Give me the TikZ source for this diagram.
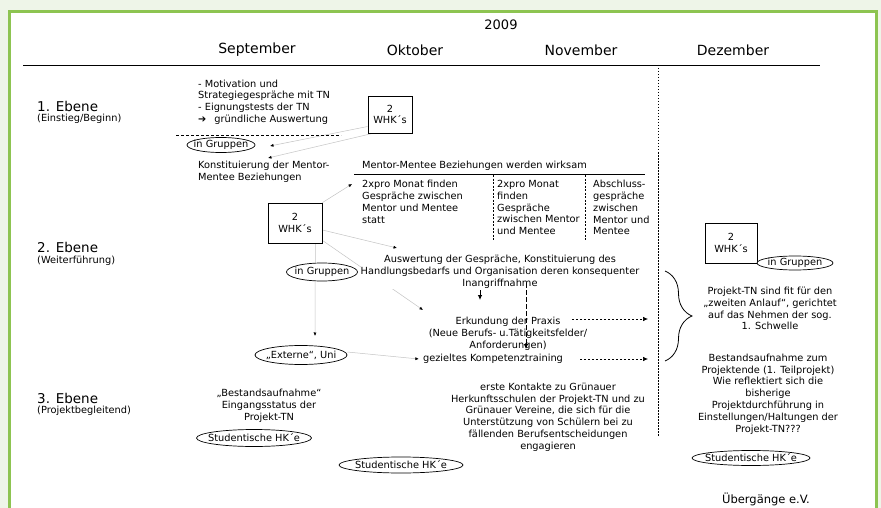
\documentclass[tikz,border=0pt]{standalone}
\usepackage{fontspec}
\setmainfont{DejaVu Sans}
\usetikzlibrary{arrows.meta,shapes.geometric,decorations.pathreplacing}

\definecolor{framegreen}{HTML}{8DC451}
\definecolor{pagegreen}{HTML}{EEF5E8}
\definecolor{linkgray}{HTML}{C4C4C4}

\pgfdeclarelayer{bg}
\pgfdeclarelayer{links}
\pgfsetlayers{bg,links,main}

\tikzset{
  small/.style={font=\fontsize{9.8}{11.8}\selectfont, inner sep=0pt},
  ctxt/.style={small, align=center},
  ltxt/.style={small, align=left, anchor=west},
  month/.style={font=\fontsize{14}{16}\selectfont, inner sep=0pt},
  level/.style={font=\fontsize{13.5}{16}\selectfont, inner sep=0pt, anchor=west},
  whk/.style={draw, small, align=center, line width=0.8pt, fill=white},
  grp/.style={draw, ellipse, small, fill=white, inner xsep=-6pt, inner ysep=-2pt,
    minimum height=15pt, line width=0.7pt},
  link/.style={draw=linkgray, line width=0.5pt, -{Latex[length=3.5pt,width=3pt,color=black]}},
  flow/.style={line width=0.8pt, -{Latex[length=5pt,width=4.5pt]}},
  dotflow/.style={line width=0.7pt, dash pattern=on 2pt off 2pt, -{Latex[length=5pt,width=4.5pt]}},
  colsep/.style={line width=0.5pt, dash pattern=on 2pt off 1.5pt},
}

\begin{document}
\begin{tikzpicture}[x=1pt, y=-1pt]
\useasboundingbox (0,0) rectangle (881,508);
\begin{pgfonlayer}{bg}
\fill[pagegreen] (0,0) rectangle (881,508);
\draw[framegreen, line width=3pt, fill=white] (9,11.5) rectangle (876,540);
\end{pgfonlayer}

% header
\node[month, font=\fontsize{13}{15}\selectfont] (year) at (501,25) {2009};
\node[month] (sep) at (257,50) {September};
\node[month] (okt) at (415,50) {Oktober};
\node[month] (nov) at (581,50) {November};
\node[month] (dez) at (733,50) {Dezember};
\coordinate (hl) at (23,65);
\coordinate (hr) at (820,65);
\draw[line width=0.9pt] (hl) -- (hr);
\coordinate (dt) at (658,65);
\coordinate (db) at (658,437);
\draw[line width=0.6pt, dash pattern=on 1.5pt off 1.5pt] (dt) -- (db);

% levels
\node[level] (e1) at (37,106) {1. Ebene};
\node[small, anchor=west] (e1s) at (37,119) {(Einstieg/Beginn)};
\node[level] (e2) at (37,247) {2. Ebene};
\node[small, anchor=west] (e2s) at (37,261) {(Weiterführung)};
\node[level] (e3) at (37,398) {3. Ebene};
\node[small, anchor=west] (e3s) at (37,411) {(Projektbegleitend)};

% 1. Ebene
\node[ltxt] (motiv) at (198,102) {- Motivation und\\Strategiegespräche mit TN\\- Eignungstests der TN\\➔\hspace{8pt}gründliche Auswertung};
\coordinate (dl) at (176,135);
\coordinate (dr) at (341,135);
\draw[line width=0.8pt, dash pattern=on 3pt off 2pt] (dl) -- (dr);
\node[grp, minimum width=68pt] (grp1) at (221,145) {in Gruppen};
\node[ltxt] (konst) at (198,172) {Konstituierung der Mentor-\\Mentee Beziehungen};
\node[whk, minimum width=44pt, minimum height=37pt] (whk1) at (390,114.5) {2\\WHK´s};

% Mentor-Mentee
\node[small, anchor=west] (mmb) at (362,166) {Mentor-Mentee Beziehungen werden wirksam};
\coordinate (ul) at (354,174);
\coordinate (ur) at (645,174);
\draw[line width=0.8pt] (ul) -- (ur);
\node[ltxt] (col1) at (362,201.7) {2xpro Monat finden\\Gespräche zwischen\\Mentor und Mentee\\statt};
\node[ltxt] (col2) at (497,207.6) {2xpro Monat\\finden\\Gespräche\\zwischen Mentor\\und Mentee};
\node[ltxt] (col3) at (593,207.6) {Abschluss-\\gespräche\\zwischen\\Mentor und\\Mentee};
\coordinate (s1t) at (493,175);
\coordinate (s1b) at (493,240);
\coordinate (s2t) at (585,175);
\coordinate (s2b) at (585,240);
\draw[colsep] (s1t) -- (s1b);
\draw[colsep] (s2t) -- (s2b);

% 2. Ebene
\node[whk, minimum width=54pt, minimum height=40pt] (whk2) at (295,223) {2\\WHK´s};
\node[grp, minimum width=71pt, minimum height=18pt] (grp2) at (322,272) {in Gruppen};
\node[grp, minimum width=92pt, minimum height=19pt] (ext) at (301,355) {„Externe“, Uni};
\node[ctxt, fill=white] (ausw) at (500,272) {Auswertung der Gespräche, Konstituierung des\\Handlungsbedarfs und Organisation deren konsequenter\\Inangriffnahme};
\node[ctxt] (erk) at (508,334) {Erkundung der Praxis\\(Neue Berufs- u.Tätigkeitsfelder/\\Anforderungen)};
\node[small] (gez) at (493,359) {gezieltes Kompetenztraining};

\coordinate (t1) at (270,146);
\coordinate (t2) at (268,158);
\coordinate (t3) at (352,184);
\coordinate (t4) at (397,248);
\coordinate (t5) at (423,310);
\coordinate (t6) at (315,336);
\begin{pgfonlayer}{links}
\draw[link] ([yshift=-12pt]whk1.west) -- (t1);
\draw[link] ([xshift=5pt]whk1.south west) -- (t2);
\draw[link] (whk2.north east) -- (t3);
\draw[link] ([yshift=-7pt]whk2.east) -- (t4);
\draw[link] ([yshift=3pt]whk2.south east) -- (t5);
\draw[link] ([xshift=-7pt]whk2.south east) -- (t6);
\draw[link] ([yshift=3pt]ext.east) -- ([xshift=-4pt]gez.west);
\end{pgfonlayer}

\coordinate (a1s) at (480,290);
\coordinate (a1e) at (480,300);
\draw[flow] (a1s) -- (a1e);
\coordinate (a2s) at (526,283);
\coordinate (a2e) at (526,349);
\draw[flow, dash pattern=on 5pt off 2pt] (a2s) -- (a2e);
\coordinate (d1s) at (572,319);
\coordinate (d1e) at (648,319);
\draw[dotflow] (d1s) -- (d1e);
\coordinate (d2s) at (580,359);
\coordinate (d2e) at (648,359);
\draw[dotflow] (d2s) -- (d2e);

% Dezember
\coordinate (bt) at (665,271);
\coordinate (bb) at (665,361);
\draw[line width=0.8pt, decorate, decoration={brace, amplitude=27pt}] (bt) -- (bb);
\node[whk, minimum width=52pt, minimum height=40pt] (whk3) at (731,243) {2\\WHK´s};
\node[grp, minimum width=76pt, minimum height=14pt] (grp3) at (795,263) {in Gruppen};
\node[ctxt] (fit) at (770,308.5) {Projekt-TN sind fit für den\\„zweiten Anlauf“, gerichtet\\auf das Nehmen der sog.\\1. Schwelle};
\node[ctxt] (ende) at (768,394) {Bestandsaufnahme zum\\Projektende (1. Teilprojekt)\\Wie reflektiert sich die\\bisherige\\Projektdurchführung in\\Einstellungen/Haltungen der\\Projekt-TN???};
\node[grp, minimum width=118pt, minimum height=15pt] (stud3) at (751,458) {Studentische HK´e};

% 3. Ebene
\node[ctxt] (bestand) at (269,406) {„Bestandsaufnahme“\\Eingangsstatus der\\Projekt-TN};
\node[grp, minimum width=115pt, minimum height=17pt] (stud1) at (254,438) {Studentische HK´e};
\node[ctxt] (kontakt) at (548,417) {erste Kontakte zu Grünauer\\Herkunftsschulen der Projekt-TN und zu\\Grünauer Vereine, die sich für die\\Unterstützung von Schülern bei zu\\fällenden Berufsentscheidungen\\engagieren};
\node[grp, minimum width=124pt, minimum height=16pt] (stud2) at (401,465) {Studentische HK´e};

\node[font=\fontsize{11.5}{13}\selectfont, inner sep=0pt] (verein) at (766,499) {Übergänge e.V.};
\end{tikzpicture}
\end{document}
